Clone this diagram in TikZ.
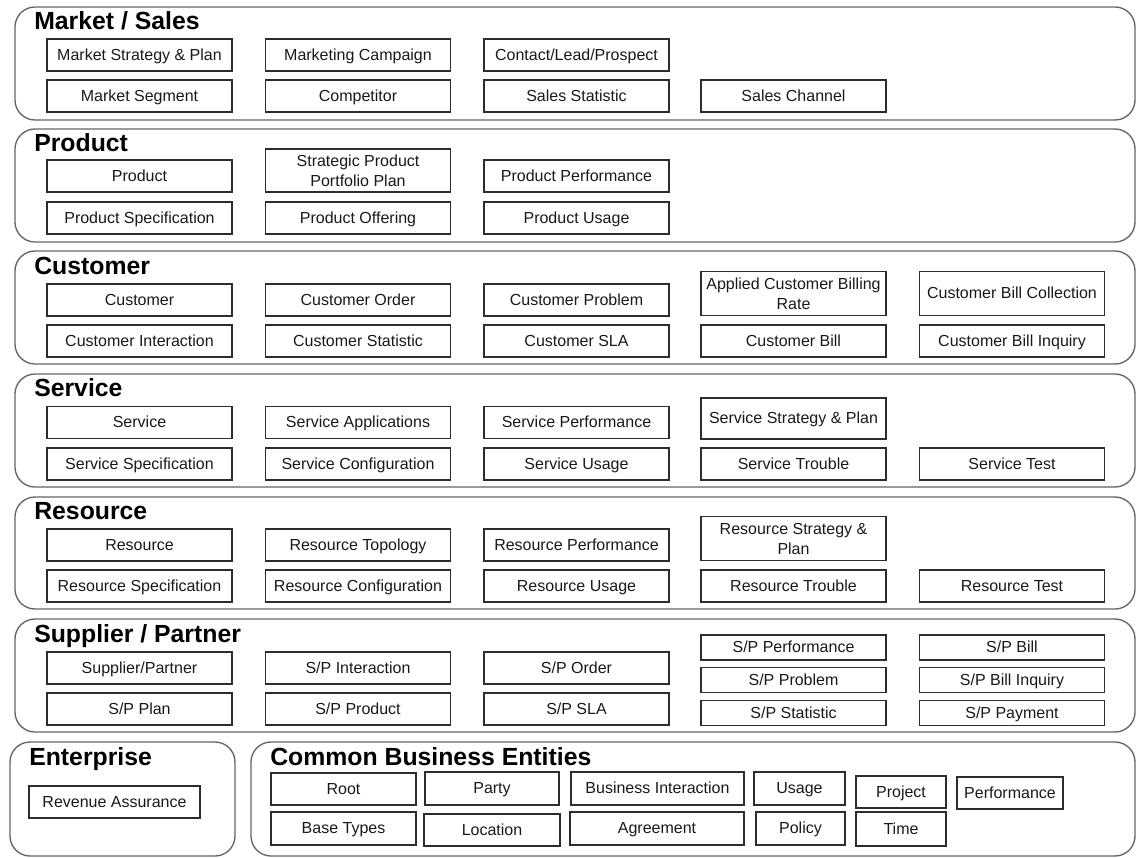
\documentclass[tikz,border=0pt]{standalone}
\usepackage{fontspec}
\setmainfont{Liberation Sans}
\usepackage{xcolor}
\definecolor{Col1}{RGB}{100,100,100}
\definecolor{Col2}{RGB}{45,45,45}
\usepackage{tikz}
\tikzstyle{Panel}=[draw=Col1,line width=1pt,rounded corners=15pt]
\tikzstyle{Title}=[anchor=base west,inner sep=0pt,
font=\fontsize{18.6}{20}\selectfont\bfseries]
\tikzstyle{BoxBase}=[draw=Col2,line width=.85pt,inner sep=1pt,align=center,
minimum width=138.75pt,minimum height=24pt,text=black!90,
font=\fontsize{12}{15}\selectfont]
\tikzstyle{Box}=[BoxBase,text height=9.6pt,text depth=1.4pt]
\tikzstyle{TallBox}=[BoxBase,minimum height=33pt]
\tikzstyle{SmallBox}=[Box,minimum height=18.75pt]

\begin{document}
\begin{tikzpicture}[x=.75pt,y=-.75pt]
            \useasboundingbox(0,0)rectangle(1137,857);
            % layer panels
            \draw[Panel](15,7)rectangle(1135,120);
            \draw[Panel](15,129)rectangle(1135,242);
            \draw[Panel](15,251)rectangle(1135,364);
            \draw[Panel](15,374)rectangle(1135,487);
            \draw[Panel](15,497)rectangle(1135,609);
            \draw[Panel](15,619)rectangle(1135,732);
            \draw[Panel](10,742)rectangle(235,856);
            \draw[Panel](251,742)rectangle(1135,856);
            \node[Title](tm)at(34,29){Market / Sales};
            \node[Title](tp)at(34,151){Product};
            \node[Title](tc)at(34,274){Customer};
            \node[Title](ts)at(34,396){Service};
            \node[Title](tr)at(34,519){Resource};
            \node[Title](tsp)at(34,642){Supplier / Partner};
            \node[Title](te)at(29,765){Enterprise};
            \node[Title](tcbe)at(270,765){Common Business Entities};
            % market / sales
            \node[Box](m1)at(139.5,55){Market Strategy \& Plan};
            \node[Box](m2)at(358,55){Marketing Campaign};
            \node[Box](m3)at(576.5,55){Contact/Lead/Prospect};
            \node[Box](m4)at(139.5,96){Market Segment};
            \node[Box](m5)at(358,96){Competitor};
            \node[Box](m6)at(576.5,96){Sales Statistic};
            \node[Box](m7)at(793.5,96){Sales Channel};
            % product
            \node[Box](p1)at(139.5,176){Product};
            \node[BoxBase,minimum height=32.25pt](p2)at(358,170.5)
                {Strategic Product\\Portfolio Plan};
            \node[Box](p3)at(576.5,176){Product Performance};
            \node[Box](p4)at(139.5,218){Product Specification};
            \node[Box](p5)at(358,218){Product Offering};
            \node[Box](p6)at(576.5,218){Product Usage};
            % customer
            \node[Box](c1)at(139.5,300){Customer};
            \node[Box](c2)at(358,300){Customer Order};
            \node[Box](c3)at(576.5,300){Customer Problem};
            \node[TallBox](c4)at(793.5,293.5)
                {Applied Customer Billing\\Rate};
            \node[Box,minimum height=33pt](c5)at(1012,293.5)
                {Customer Bill Collection};
            \node[Box](c6)at(139.5,341){Customer Interaction};
            \node[Box](c7)at(358,341){Customer Statistic};
            \node[Box](c8)at(576.5,341){Customer SLA};
            \node[Box](c9)at(793.5,341){Customer Bill};
            \node[Box](c10)at(1012,341){Customer Bill Inquiry};
            % service
            \node[Box](s1)at(139.5,422.5){Service};
            \node[Box](s2)at(358,422.5){Service Applications};
            \node[Box](s3)at(576.5,422.5){Service Performance};
            \node[Box,minimum height=30.75pt](s4)at(793.5,418.5)
                {Service Strategy \& Plan};
            \node[Box](s5)at(139.5,464){Service Specification};
            \node[Box](s6)at(358,464){Service Configuration};
            \node[Box](s7)at(576.5,464){Service Usage};
            \node[Box](s8)at(793.5,464){Service Trouble};
            \node[Box](s9)at(1012,464){Service Test};
            % resource
            \node[Box](r1)at(139.5,545){Resource};
            \node[Box](r2)at(358,545){Resource Topology};
            \node[Box](r3)at(576.5,545){Resource Performance};
            \node[TallBox](r4)at(793.5,538.5)
                {Resource Strategy \&\\Plan};
            \node[Box](r5)at(139.5,586){Resource Specification};
            \node[Box](r6)at(358,586){Resource Configuration};
            \node[Box](r7)at(576.5,586){Resource Usage};
            \node[Box](r8)at(793.5,586){Resource Trouble};
            \node[Box](r9)at(1012,586){Resource Test};
            % supplier / partner
            \node[Box](sp1)at(139.5,668){Supplier/Partner};
            \node[Box](sp2)at(358,668){S/P Interaction};
            \node[Box](sp3)at(576.5,668){S/P Order};
            \node[Box](sp4)at(139.5,709){S/P Plan};
            \node[Box](sp5)at(358,709){S/P Product};
            \node[Box](sp6)at(576.5,709){S/P SLA};
            \node[SmallBox](sp7)at(793.5,647.5){S/P Performance};
            \node[SmallBox](sp8)at(793.5,680){S/P Problem};
            \node[SmallBox](sp9)at(793.5,713){S/P Statistic};
            \node[SmallBox](sp10)at(1012,647.5){S/P Bill};
            \node[SmallBox](sp11)at(1012,680){S/P Bill Inquiry};
            \node[SmallBox](sp12)at(1012,713){S/P Payment};
            % enterprise
            \node[Box,minimum width=128.25pt](e1)at(114.5,802)
                {Revenue Assurance};
            % common business entities
            \node[Box,minimum width=108.75pt](b1)at(343.5,789){Root};
            \node[Box,minimum width=100.5pt,minimum height=24.75pt](b2)
                at(492,788.5){Party};
            \node[Box,minimum width=129.75pt,minimum height=24.75pt](b3)
                at(657.5,788.5){Business Interaction};
            \node[Box,minimum width=68.25pt,minimum height=24.75pt](b4)
                at(799.5,788.5){Usage};
            \node[Box,minimum width=67.5pt](b5)at(901,792){Project};
            \node[Box,minimum width=79.5pt](b6)at(1010,793){Performance};
            \node[Box,minimum width=108.75pt,minimum height=24.75pt](b7)
                at(343.5,828.5){Base Types};
            \node[Box,minimum width=102pt](b8)at(492,830){Location};
            \node[Box,minimum width=130.5pt,minimum height=24.75pt](b9)
                at(657,828.5){Agreement};
            \node[Box,minimum width=66.75pt,minimum height=24.75pt](b10)
                at(800.5,828.5){Policy};
            \node[Box,minimum width=67.5pt,minimum height=25.5pt](b11)
                at(901,829){Time};
\end{tikzpicture}
\end{document}
